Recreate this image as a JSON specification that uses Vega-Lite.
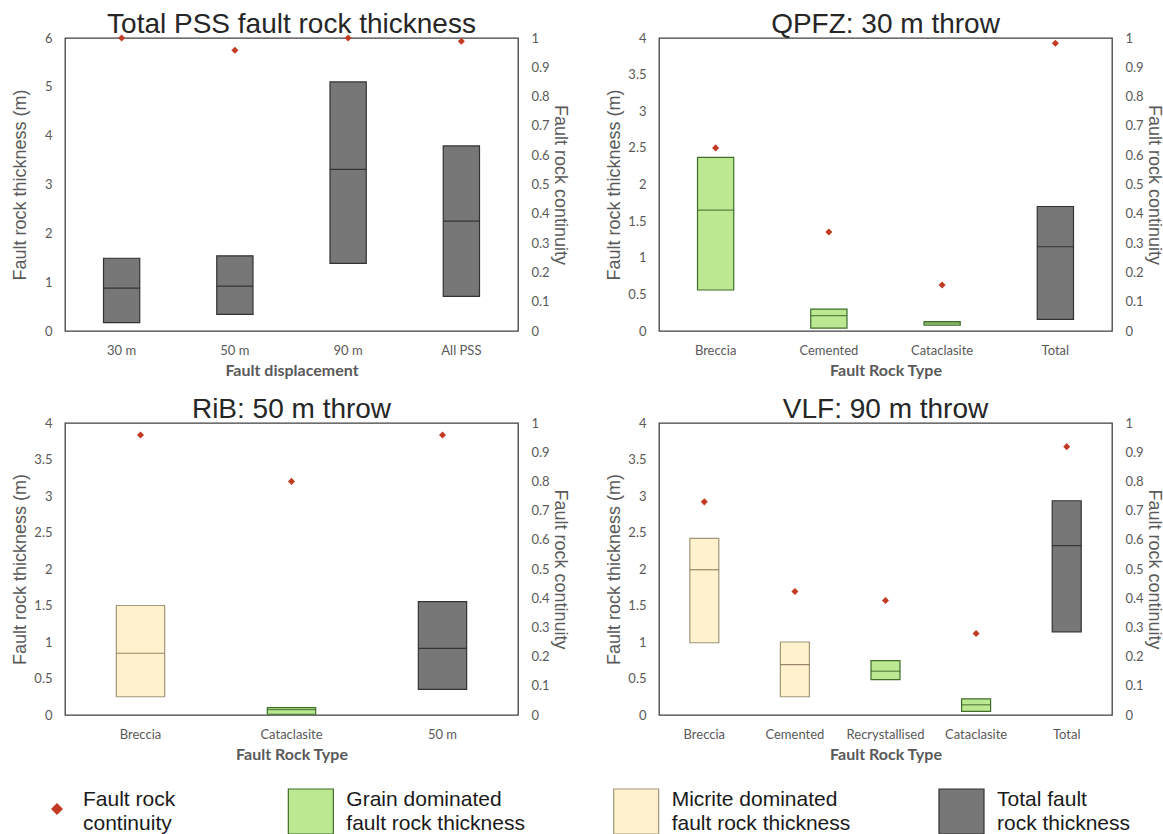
{
  "$schema": "https://vega.github.io/schema/vega-lite/v6.json",
  "background": "white",
  "padding": {"left": 10, "top": 10, "right": 0, "bottom": 0},
  "spacing": 23,
  "data": {"values": [
    {"panel": "P1", "cat": "30 m", "kind": "Total", "low": 0.17, "high": 1.49, "median": 0.88, "cont": 1.0},
    {"panel": "P1", "cat": "50 m", "kind": "Total", "low": 0.34, "high": 1.54, "median": 0.92, "cont": 0.958},
    {"panel": "P1", "cat": "90 m", "kind": "Total", "low": 1.385, "high": 5.1, "median": 3.31, "cont": 1.0},
    {"panel": "P1", "cat": "All PSS", "kind": "Total", "low": 0.71, "high": 3.79, "median": 2.25, "cont": 0.989},
    {"panel": "P2", "cat": "Breccia", "kind": "Grain", "low": 0.56, "high": 2.37, "median": 1.65, "cont": 0.625},
    {"panel": "P2", "cat": "Cemented", "kind": "Grain", "low": 0.04, "high": 0.3, "median": 0.21, "cont": 0.338},
    {"panel": "P2", "cat": "Cataclasite", "kind": "Grain", "low": 0.08, "high": 0.13, "median": 0.11, "cont": 0.157},
    {"panel": "P2", "cat": "Total", "kind": "Total", "low": 0.16, "high": 1.7, "median": 1.15, "cont": 0.982},
    {"panel": "P3", "cat": "Breccia", "kind": "Micrite", "low": 0.25, "high": 1.5, "median": 0.846, "cont": 0.959},
    {"panel": "P3", "cat": "Cataclasite", "kind": "Grain", "low": 0.01, "high": 0.1, "median": 0.075, "cont": 0.8},
    {"panel": "P3", "cat": "50 m", "kind": "Total", "low": 0.352, "high": 1.554, "median": 0.914, "cont": 0.959},
    {"panel": "P4", "cat": "Breccia", "kind": "Micrite", "low": 0.99, "high": 2.42, "median": 1.99, "cont": 0.73},
    {"panel": "P4", "cat": "Cemented", "kind": "Micrite", "low": 0.25, "high": 1.0, "median": 0.69, "cont": 0.423},
    {"panel": "P4", "cat": "Recrystallised", "kind": "Grain", "low": 0.485, "high": 0.745, "median": 0.6, "cont": 0.392},
    {"panel": "P4", "cat": "Cataclasite", "kind": "Grain", "low": 0.05, "high": 0.22, "median": 0.14, "cont": 0.279},
    {"panel": "P4", "cat": "Total", "kind": "Total", "low": 1.14, "high": 2.935, "median": 2.32, "cont": 0.919}
  ]},
  "resolve": {"scale": {"x": "independent", "y": "independent"}},
  "vconcat": [
    {
      "columns": 2,
      "bounds": "flush",
      "spacing": {"row": 92, "column": 141},
      "resolve": {"scale": {"x": "independent", "y": "independent"}},
      "concat": [
        {
          "width": 453, "height": 293,
          "title": "Total PSS fault rock thickness",
          "transform": [{"filter": "datum.panel === 'P1'"}],
          "layer": [
            {"layer": [
              {"mark": {"type": "bar", "width": {"band": 0.32}, "strokeWidth": 1.2},
               "encoding": {
                 "x": {"field": "cat", "type": "nominal", "sort": ["30 m", "50 m", "90 m", "All PSS"], "title": "Fault displacement", "scale": {"paddingInner": 0, "paddingOuter": 0}},
                 "y": {"field": "low", "type": "quantitative", "scale": {"domain": [0, 6]}, "axis": {"orient": "left", "values": [0, 1, 2, 3, 4, 5, 6], "format": ".1~f", "labelOverlap": false, "title": "Fault rock thickness (m)"}},
                 "y2": {"field": "high"},
                 "fill": {"field": "kind", "type": "nominal", "scale": {"domain": ["Grain", "Micrite", "Total"], "range": ["#bde892", "#fff2cc", "#777777"]}, "legend": null},
                 "stroke": {"field": "kind", "type": "nominal", "scale": {"domain": ["Grain", "Micrite", "Total"], "range": ["#3f6d2a", "#a3957a", "#333333"]}, "legend": null}
               }},
              {"mark": {"type": "tick", "size": 36, "thickness": 1.2},
               "encoding": {
                 "x": {"field": "cat", "type": "nominal", "sort": ["30 m", "50 m", "90 m", "All PSS"], "title": "Fault displacement"},
                 "y": {"field": "median", "type": "quantitative", "axis": {"orient": "left", "values": [0, 1, 2, 3, 4, 5, 6], "format": ".1~f", "labelOverlap": false, "title": "Fault rock thickness (m)"}},
                 "color": {"field": "kind", "type": "nominal", "scale": {"domain": ["Grain", "Micrite", "Total"], "range": ["#2f5a1e", "#6b5a45", "#1a1a1a"]}, "legend": null}
               }}
            ]},
            {"mark": {"type": "point", "shape": "diamond", "filled": true, "size": 50, "color": "#c23b22", "opacity": 1},
             "encoding": {
               "x": {"field": "cat", "type": "nominal", "sort": ["30 m", "50 m", "90 m", "All PSS"], "title": "Fault displacement"},
               "y": {"field": "cont", "type": "quantitative", "scale": {"domain": [0, 1]}, "axis": {"orient": "right", "values": [0, 0.1, 0.2, 0.3, 0.4, 0.5, 0.6, 0.7, 0.8, 0.9, 1], "format": ".1~f", "labelOverlap": false, "title": "Fault rock continuity"}}
             }}
          ],
          "resolve": {"scale": {"y": "independent"}}
        },
        {
          "width": 453, "height": 293,
          "title": "QPFZ: 30 m throw",
          "transform": [{"filter": "datum.panel === 'P2'"}],
          "layer": [
            {"layer": [
              {"mark": {"type": "bar", "width": {"band": 0.32}, "strokeWidth": 1.2},
               "encoding": {
                 "x": {"field": "cat", "type": "nominal", "sort": ["Breccia", "Cemented", "Cataclasite", "Total"], "title": "Fault Rock Type", "scale": {"paddingInner": 0, "paddingOuter": 0}},
                 "y": {"field": "low", "type": "quantitative", "scale": {"domain": [0, 4]}, "axis": {"orient": "left", "values": [0, 0.5, 1, 1.5, 2, 2.5, 3, 3.5, 4], "format": ".1~f", "labelOverlap": false, "title": "Fault rock thickness (m)"}},
                 "y2": {"field": "high"},
                 "fill": {"field": "kind", "type": "nominal", "scale": {"domain": ["Grain", "Micrite", "Total"], "range": ["#bde892", "#fff2cc", "#777777"]}, "legend": null},
                 "stroke": {"field": "kind", "type": "nominal", "scale": {"domain": ["Grain", "Micrite", "Total"], "range": ["#3f6d2a", "#a3957a", "#333333"]}, "legend": null}
               }},
              {"mark": {"type": "tick", "size": 36, "thickness": 1.2},
               "encoding": {
                 "x": {"field": "cat", "type": "nominal", "sort": ["Breccia", "Cemented", "Cataclasite", "Total"], "title": "Fault Rock Type"},
                 "y": {"field": "median", "type": "quantitative", "axis": {"orient": "left", "values": [0, 0.5, 1, 1.5, 2, 2.5, 3, 3.5, 4], "format": ".1~f", "labelOverlap": false, "title": "Fault rock thickness (m)"}},
                 "color": {"field": "kind", "type": "nominal", "scale": {"domain": ["Grain", "Micrite", "Total"], "range": ["#2f5a1e", "#6b5a45", "#1a1a1a"]}, "legend": null}
               }}
            ]},
            {"mark": {"type": "point", "shape": "diamond", "filled": true, "size": 50, "color": "#c23b22", "opacity": 1},
             "encoding": {
               "x": {"field": "cat", "type": "nominal", "sort": ["Breccia", "Cemented", "Cataclasite", "Total"], "title": "Fault Rock Type"},
               "y": {"field": "cont", "type": "quantitative", "scale": {"domain": [0, 1]}, "axis": {"orient": "right", "values": [0, 0.1, 0.2, 0.3, 0.4, 0.5, 0.6, 0.7, 0.8, 0.9, 1], "format": ".1~f", "labelOverlap": false, "title": "Fault rock continuity"}}
             }}
          ],
          "resolve": {"scale": {"y": "independent"}}
        },
        {
          "width": 453, "height": 292,
          "title": "RiB: 50 m throw",
          "transform": [{"filter": "datum.panel === 'P3'"}],
          "layer": [
            {"layer": [
              {"mark": {"type": "bar", "width": {"band": 0.32}, "strokeWidth": 1.2},
               "encoding": {
                 "x": {"field": "cat", "type": "nominal", "sort": ["Breccia", "Cataclasite", "50 m"], "title": "Fault Rock Type", "scale": {"paddingInner": 0, "paddingOuter": 0}},
                 "y": {"field": "low", "type": "quantitative", "scale": {"domain": [0, 4]}, "axis": {"orient": "left", "values": [0, 0.5, 1, 1.5, 2, 2.5, 3, 3.5, 4], "format": ".1~f", "labelOverlap": false, "title": "Fault rock thickness (m)"}},
                 "y2": {"field": "high"},
                 "fill": {"field": "kind", "type": "nominal", "scale": {"domain": ["Grain", "Micrite", "Total"], "range": ["#bde892", "#fff2cc", "#777777"]}, "legend": null},
                 "stroke": {"field": "kind", "type": "nominal", "scale": {"domain": ["Grain", "Micrite", "Total"], "range": ["#3f6d2a", "#a3957a", "#333333"]}, "legend": null}
               }},
              {"mark": {"type": "tick", "size": 48, "thickness": 1.2},
               "encoding": {
                 "x": {"field": "cat", "type": "nominal", "sort": ["Breccia", "Cataclasite", "50 m"], "title": "Fault Rock Type"},
                 "y": {"field": "median", "type": "quantitative", "axis": {"orient": "left", "values": [0, 0.5, 1, 1.5, 2, 2.5, 3, 3.5, 4], "format": ".1~f", "labelOverlap": false, "title": "Fault rock thickness (m)"}},
                 "color": {"field": "kind", "type": "nominal", "scale": {"domain": ["Grain", "Micrite", "Total"], "range": ["#2f5a1e", "#6b5a45", "#1a1a1a"]}, "legend": null}
               }}
            ]},
            {"mark": {"type": "point", "shape": "diamond", "filled": true, "size": 50, "color": "#c23b22", "opacity": 1},
             "encoding": {
               "x": {"field": "cat", "type": "nominal", "sort": ["Breccia", "Cataclasite", "50 m"], "title": "Fault Rock Type"},
               "y": {"field": "cont", "type": "quantitative", "scale": {"domain": [0, 1]}, "axis": {"orient": "right", "values": [0, 0.1, 0.2, 0.3, 0.4, 0.5, 0.6, 0.7, 0.8, 0.9, 1], "format": ".1~f", "labelOverlap": false, "title": "Fault rock continuity"}}
             }}
          ],
          "resolve": {"scale": {"y": "independent"}}
        },
        {
          "width": 453, "height": 292,
          "title": "VLF: 90 m throw",
          "transform": [{"filter": "datum.panel === 'P4'"}],
          "layer": [
            {"layer": [
              {"mark": {"type": "bar", "width": {"band": 0.32}, "strokeWidth": 1.2},
               "encoding": {
                 "x": {"field": "cat", "type": "nominal", "sort": ["Breccia", "Cemented", "Recrystallised", "Cataclasite", "Total"], "title": "Fault Rock Type", "scale": {"paddingInner": 0, "paddingOuter": 0}},
                 "y": {"field": "low", "type": "quantitative", "scale": {"domain": [0, 4]}, "axis": {"orient": "left", "values": [0, 0.5, 1, 1.5, 2, 2.5, 3, 3.5, 4], "format": ".1~f", "labelOverlap": false, "title": "Fault rock thickness (m)"}},
                 "y2": {"field": "high"},
                 "fill": {"field": "kind", "type": "nominal", "scale": {"domain": ["Grain", "Micrite", "Total"], "range": ["#bde892", "#fff2cc", "#777777"]}, "legend": null},
                 "stroke": {"field": "kind", "type": "nominal", "scale": {"domain": ["Grain", "Micrite", "Total"], "range": ["#3f6d2a", "#a3957a", "#333333"]}, "legend": null}
               }},
              {"mark": {"type": "tick", "size": 29, "thickness": 1.2},
               "encoding": {
                 "x": {"field": "cat", "type": "nominal", "sort": ["Breccia", "Cemented", "Recrystallised", "Cataclasite", "Total"], "title": "Fault Rock Type"},
                 "y": {"field": "median", "type": "quantitative", "axis": {"orient": "left", "values": [0, 0.5, 1, 1.5, 2, 2.5, 3, 3.5, 4], "format": ".1~f", "labelOverlap": false, "title": "Fault rock thickness (m)"}},
                 "color": {"field": "kind", "type": "nominal", "scale": {"domain": ["Grain", "Micrite", "Total"], "range": ["#2f5a1e", "#6b5a45", "#1a1a1a"]}, "legend": null}
               }}
            ]},
            {"mark": {"type": "point", "shape": "diamond", "filled": true, "size": 50, "color": "#c23b22", "opacity": 1},
             "encoding": {
               "x": {"field": "cat", "type": "nominal", "sort": ["Breccia", "Cemented", "Recrystallised", "Cataclasite", "Total"], "title": "Fault Rock Type"},
               "y": {"field": "cont", "type": "quantitative", "scale": {"domain": [0, 1]}, "axis": {"orient": "right", "values": [0, 0.1, 0.2, 0.3, 0.4, 0.5, 0.6, 0.7, 0.8, 0.9, 1], "format": ".1~f", "labelOverlap": false, "title": "Fault rock continuity"}}
             }}
          ],
          "resolve": {"scale": {"y": "independent"}}
        }
      ]
    },
    {
      "width": 976, "height": 9,
      "view": {"stroke": null},
      "data": {"values": [
        {"item": "C", "label": "Fault rock\ncontinuity"},
        {"item": "G", "label": "Grain dominated\nfault rock thickness"},
        {"item": "M", "label": "Micrite dominated\nfault rock thickness"},
        {"item": "T", "label": "Total fault\nrock thickness"}
      ]},
      "layer": [
        {"transform": [{"filter": "datum.item === 'C'"}],
         "mark": {"type": "point", "shape": "diamond", "filled": true, "size": 144, "color": "#c23b22", "opacity": 1, "xOffset": -8, "yOffset": -2.5},
         "encoding": {"x": {"field": "item", "type": "nominal", "sort": ["C", "G", "M", "T"], "scale": {"type": "point", "padding": 0}, "axis": null}}},
        {"transform": [{"filter": "datum.item !== 'C'"}],
         "mark": {"type": "point", "shape": "square", "filled": true, "size": 2025, "opacity": 1, "strokeWidth": 1.2, "xOffset": -79.5},
         "encoding": {
           "x": {"field": "item", "type": "nominal", "sort": ["C", "G", "M", "T"], "axis": null},
           "fill": {"field": "item", "type": "nominal", "scale": {"domain": ["G", "M", "T"], "range": ["#bde892", "#fff2cc", "#777777"]}, "legend": null},
           "stroke": {"field": "item", "type": "nominal", "scale": {"domain": ["G", "M", "T"], "range": ["#3f6d2a", "#d6cbb0", "#666666"]}, "legend": null}
         }},
        {"transform": [{"filter": "datum.item === 'C'"}],
         "mark": {"type": "text", "align": "left", "baseline": "middle", "lineBreak": "\n", "lineHeight": 24, "font": "Liberation Sans", "fontSize": 21, "color": "#1a1a1a", "xOffset": 18, "yOffset": -11.5},
         "encoding": {"x": {"field": "item", "type": "nominal", "sort": ["C", "G", "M", "T"], "axis": null}, "text": {"field": "label"}}},
        {"transform": [{"filter": "datum.item !== 'C'"}],
         "mark": {"type": "text", "align": "left", "baseline": "middle", "lineBreak": "\n", "lineHeight": 24, "font": "Liberation Sans", "fontSize": 21, "color": "#1a1a1a", "xOffset": -44, "yOffset": -11.5},
         "encoding": {"x": {"field": "item", "type": "nominal", "sort": ["C", "G", "M", "T"], "axis": null}, "text": {"field": "label"}}}
      ]
    }
  ],
  "config": {
    "view": {"stroke": "#404040", "strokeWidth": 1.3},
    "title": {"font": "Liberation Sans", "fontSize": 28, "fontWeight": "normal", "color": "#262626", "anchor": "middle", "frame": "group", "baseline": "alphabetic", "offset": -7},
    "axis": {"domain": false, "ticks": false, "tickSize": 0, "grid": false, "labelFont": "Lato", "labelFontSize": 13, "labelColor": "#595959", "titleFont": "Liberation Sans", "titleFontSize": 18, "titleFontWeight": "normal", "titleColor": "#595959", "labelPadding": 13},
    "axisX": {"titleFont": "Lato", "titleFontWeight": "bold", "titleFontSize": 16, "labelAngle": 0, "labelPadding": 13, "titlePadding": 5},
    "axisLeft": {"minExtent": 30, "maxExtent": 30, "titlePadding": 6},
    "axisRight": {"minExtent": 31, "maxExtent": 31, "titlePadding": 1}
  }
}
